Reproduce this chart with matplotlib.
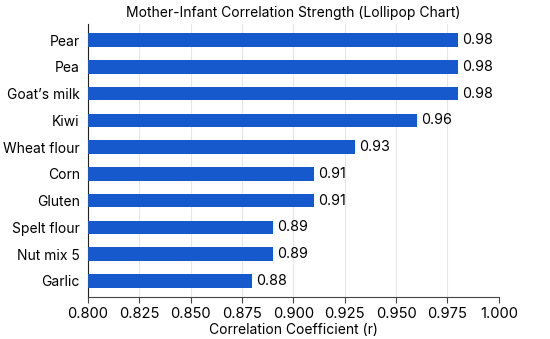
import matplotlib.pyplot as plt
import numpy as np

foods = ["Pear", "Pea", "Goat's milk", "Kiwi", "Wheat flour", "Corn",
         "Gluten", "Spelt flour", "Nut mix 5", "Garlic"]
corr = [0.98, 0.98, 0.98, 0.96, 0.93, 0.91, 0.91, 0.89, 0.89, 0.88]
xticks = [0.800, 0.825, 0.850, 0.875, 0.900, 0.925, 0.950, 0.975, 1.000]

plt.rcParams['font.family'] = ['Inter', 'DejaVu Sans']
plt.rcParams['font.size'] = 10

fig = plt.figure(figsize=(5.5, 3.39), dpi=100)
ax = fig.add_axes([0.16, 0.124, 0.747, 0.805])

y = np.arange(len(foods))[::-1]
ax.barh(y, corr, height=0.5, color='#1659cc', zorder=3)
for yi, v in zip(y, corr):
    ax.text(v + 0.002, yi, f"{v:.2f}", va='center', ha='left', fontsize=10.3)

ax.set_yticks(y)
ax.set_yticklabels([f.replace("'", "\u2019") for f in foods])
ax.set_xlim(0.8, 1.0)
ax.set_ylim(-0.6, len(foods) - 0.4)
ax.set_xticks(xticks)
ax.set_xticklabels([f"{t:.3f}" for t in xticks], fontsize=10.6)
ax.tick_params(axis='y', length=0, pad=6)
ax.tick_params(axis='x', length=4, color='#444444')
ax.grid(axis='x', color='#e6e6e6', linewidth=0.8, zorder=0)
for s in ['top', 'right']:
    ax.spines[s].set_visible(False)
ax.spines['left'].set_color('#222222')
ax.spines['bottom'].set_color('#444444')
ax.set_xlabel("Correlation Coefficient (r)", labelpad=1)
ax.set_title("Mother-Infant Correlation Strength (Lollipop Chart)", fontsize=10, pad=5)

fig.savefig("out.png", dpi=100)
